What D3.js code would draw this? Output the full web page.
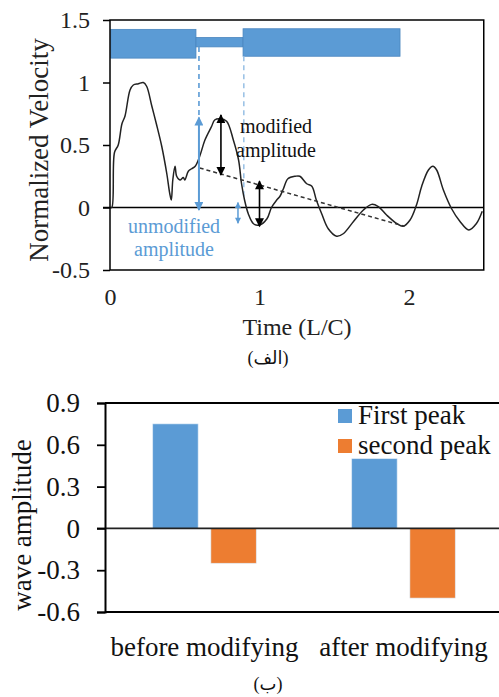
<!DOCTYPE html>
<html>
<head>
<meta charset="utf-8">
<script src="https://d3js.org/d3.v7.min.js"></script>
<style>
  body { margin: 0; background: #fff; }
  svg { display: block; font-family: "Liberation Serif", "DejaVu Sans", serif; }
</style>
</head>
<body>
<svg id="chart" width="499" height="697"></svg>
<script>
// ---- top chart data: normalized velocity vs time (L/C)
const timeVals = [0, 0.012, 0.03, 0.055, 0.08, 0.10, 0.134, 0.156, 0.19, 0.223, 0.245, 0.28, 0.31, 0.346, 0.38, 0.40, 0.41, 0.42, 0.435, 0.446, 0.468, 0.49, 0.50, 0.524, 0.546, 0.57, 0.60, 0.635, 0.68, 0.70, 0.736, 0.78, 0.825, 0.86, 0.88, 0.90, 0.925, 0.96, 1.0, 1.05, 1.08, 1.115, 1.137, 1.16, 1.19, 1.24, 1.27, 1.316, 1.35, 1.38, 1.416, 1.46, 1.516, 1.56, 1.63, 1.695, 1.75, 1.795, 1.85, 1.92, 1.96, 2.007, 2.05, 2.085, 2.13, 2.16, 2.185, 2.23, 2.285, 2.34, 2.40, 2.45, 2.49];
const velocityVals = [0, 0.0, 0.44, 0.5, 0.67, 0.73, 0.94, 0.98, 0.99, 1.0, 0.97, 0.81, 0.67, 0.49, 0.27, 0.11, 0.06, 0.22, 0.33, 0.25, 0.22, 0.24, 0.22, 0.29, 0.31, 0.33, 0.41, 0.54, 0.65, 0.70, 0.71, 0.69, 0.54, 0.38, 0.19, 0.06, -0.05, -0.13, -0.14, -0.09, 0.0, 0.06, 0.09, 0.15, 0.23, 0.25, 0.25, 0.19, 0.17, 0.06, -0.05, -0.17, -0.23, -0.21, -0.11, -0.02, 0.025, 0.007, -0.06, -0.13, -0.15, -0.10, 0.02, 0.17, 0.30, 0.33, 0.30, 0.14, -0.01, -0.11, -0.18, -0.13, -0.03];
const velTicks = [-0.5, 0, 0.5, 1, 1.5];
const timeTicks = [0, 1, 2];

// pipe sketch segments [t0, t1, vTop, vBottom]
const pipeSegs = [[0.005, 0.575, 1.425, 1.195], [0.575, 0.89, 1.36, 1.285], [0.89, 1.94, 1.43, 1.21]];
// decay trend (dashed)
const trendLine = [[0.6, 0.316], [1.97, -0.15]];

// ---- bottom chart data
const cases = ["before modifying", "after modifying"];
const peakNames = ["First peak", "second peak"];
const firstPeak = [0.75, 0.5];
const secondPeak = [-0.25, -0.5];
const ampTicks = [-0.6, -0.3, 0, 0.3, 0.6, 0.9];

const blue = "#5B9BD5", orange = "#ED7D31", lightBlue = "#9DC3E6";
const svg = d3.select("#chart");

// arrow markers
const defs = svg.append("defs");
function marker(id, color, w, h) {
  defs.append("marker").attr("id", id)
    .attr("viewBox", "0 0 10 10").attr("refX", 9).attr("refY", 5)
    .attr("markerWidth", w).attr("markerHeight", h)
    .attr("markerUnits", "userSpaceOnUse")
    .attr("orient", "auto-start-reverse")
    .append("path").attr("d", "M0,0 L10,5 L0,10 z").attr("fill", color);
}
marker("ab", "#000", 11, 9);
marker("abl", blue, 11, 9);
marker("abs", blue, 7, 6);

// ================= top chart =================
const x = d3.scaleLinear().domain([0, 2.5]).range([110, 483.75]);
const y = d3.scaleLinear().domain([-0.5, 1.5]).range([270, 20]);

const gTop = svg.append("g");

// pipe rectangles
gTop.selectAll("rect.pipe").data(pipeSegs).enter().append("rect")
  .attr("x", d => x(d[0])).attr("width", d => x(d[1]) - x(d[0]))
  .attr("y", d => y(d[2])).attr("height", d => y(d[3]) - y(d[2]))
  .attr("fill", blue).attr("stroke", "#4a86bf").attr("stroke-width", 0.8);

// dashed guide lines from pipe joints
gTop.append("line").attr("x1", x(0.595)).attr("x2", x(0.595)).attr("y1", y(1.285)).attr("y2", y(0.7))
  .attr("stroke", blue).attr("stroke-width", 1.6).attr("stroke-dasharray", "5,4");
gTop.append("line").attr("x1", x(0.895)).attr("x2", x(0.895)).attr("y1", y(1.21)).attr("y2", y(0.06))
  .attr("stroke", lightBlue).attr("stroke-width", 1.6).attr("stroke-dasharray", "5,4");

// zero line
gTop.append("line").attr("x1", 103).attr("x2", x(2.5)).attr("y1", y(0)).attr("y2", y(0))
  .attr("stroke", "#000").attr("stroke-width", 1.5);

// velocity curve
const line = d3.line().x((d, i) => x(timeVals[i])).y(d => y(d)).curve(d3.curveCatmullRom.alpha(0.5));
gTop.append("path").datum(velocityVals).attr("d", line)
  .attr("fill", "none").attr("stroke", "#222").attr("stroke-width", 1.5);

// trend line
gTop.append("line").attr("x1", x(trendLine[0][0])).attr("y1", y(trendLine[0][1]))
  .attr("x2", x(trendLine[1][0])).attr("y2", y(trendLine[1][1]))
  .attr("stroke", "#333").attr("stroke-width", 1.5).attr("stroke-dasharray", "4,3");

// arrows
function dArrow(t, v0, v1, color, mk, w) {
  gTop.append("line").attr("x1", x(t)).attr("x2", x(t)).attr("y1", y(v0)).attr("y2", y(v1))
    .attr("stroke", color).attr("stroke-width", w)
    .attr("marker-start", `url(#${mk})`).attr("marker-end", `url(#${mk})`);
}
dArrow(0.595, 0.72, -0.02, blue, "abl", 2);
dArrow(0.856, 0.04, -0.125, blue, "abs", 1.5);
dArrow(0.742, 0.74, 0.26, "#000", "ab", 1.6);
dArrow(1.0, 0.21, -0.15, "#000", "ab", 1.6);

// annotation text
gTop.append("text").attr("x", 276).attr("y", 133).attr("text-anchor", "middle")
  .attr("font-size", 20).attr("fill", "#111").text("modified");
gTop.append("text").attr("x", 276).attr("y", 157).attr("text-anchor", "middle")
  .attr("font-size", 20).attr("fill", "#111").text("amplitude");
gTop.append("text").attr("x", 174).attr("y", 233).attr("text-anchor", "middle")
  .attr("font-size", 20).attr("fill", blue).text("unmodified");
gTop.append("text").attr("x", 174).attr("y", 256).attr("text-anchor", "middle")
  .attr("font-size", 20).attr("fill", blue).text("amplitude");

// frame
gTop.append("rect").attr("x", x(0)).attr("y", y(1.5)).attr("width", x(2.5) - x(0)).attr("height", y(-0.5) - y(1.5))
  .attr("fill", "none").attr("stroke", "#000").attr("stroke-width", 1.5);

const plain = d => String(d);

// y axis
const yAxis = gTop.append("g").attr("transform", `translate(${x(0)},0)`)
  .call(d3.axisLeft(y).tickValues(velTicks).tickSize(7).tickPadding(13).tickFormat(plain));
yAxis.select(".domain").remove();
yAxis.selectAll("line").attr("stroke", "#000").attr("stroke-width", 1.5);
yAxis.selectAll("text").attr("font-size", 24).attr("font-family", "Liberation Serif").attr("fill", "#222");

// x axis
const xAxis = gTop.append("g").attr("transform", `translate(0,${y(-0.5)})`)
  .call(d3.axisBottom(x).tickValues(timeTicks).tickSize(0).tickPadding(18).tickFormat(plain));
xAxis.select(".domain").remove();
xAxis.selectAll("text").attr("font-size", 24).attr("font-family", "Liberation Serif").attr("fill", "#222");

gTop.append("text").attr("x", 297).attr("y", 335).attr("text-anchor", "middle")
  .attr("font-size", 24).attr("fill", "#222").text("Time (L/C)");
gTop.append("text").attr("transform", "translate(48,150) rotate(-90)").attr("text-anchor", "middle")
  .attr("font-size", 27).attr("fill", "#222").text("Normalized Velocity");
gTop.append("text").attr("x", 268).attr("y", 364).attr("text-anchor", "middle")
  .attr("font-size", 18).attr("fill", "#111").text("(الف)");

// ================= bottom chart =================
const x0 = d3.scaleBand().domain(cases).range([105, 503]).paddingInner(0.48).paddingOuter(0.24);
const x1 = d3.scaleBand().domain(peakNames).range([0, x0.bandwidth()]).paddingInner(0.22);
const yb = d3.scaleLinear().domain([-0.6, 0.9]).range([612, 403]);
const color = d3.scaleOrdinal().domain(peakNames).range([blue, orange]);

const gBot = svg.append("g");
const rows = cases.map((c, i) => ({ c, vals: [firstPeak[i], secondPeak[i]] }));

gBot.selectAll("g.grp").data(rows).enter().append("g")
  .attr("transform", d => `translate(${x0(d.c)},0)`)
  .selectAll("rect").data(d => d.vals.map((v, j) => ({ k: peakNames[j], v })))
  .enter().append("rect")
  .attr("x", d => x1(d.k)).attr("width", x1.bandwidth())
  .attr("y", d => yb(Math.max(0, d.v))).attr("height", d => Math.abs(yb(d.v) - yb(0)))
  .attr("fill", d => color(d.k)).attr("stroke", "#dbe8f5").attr("stroke-width", 0.6);

// zero line
gBot.append("line").attr("x1", 97).attr("x2", 499).attr("y1", yb(0)).attr("y2", yb(0))
  .attr("stroke", "#222").attr("stroke-width", 1.8);
// frame lines
gBot.append("line").attr("x1", 105).attr("x2", 499).attr("y1", yb(0.9)).attr("y2", yb(0.9))
  .attr("stroke", "#000").attr("stroke-width", 2);
gBot.append("line").attr("x1", 105).attr("x2", 499).attr("y1", yb(-0.6)).attr("y2", yb(-0.6))
  .attr("stroke", "#000").attr("stroke-width", 2);

const ybAxis = gBot.append("g").attr("transform", "translate(105,0)")
  .call(d3.axisLeft(yb).tickValues(ampTicks).tickSize(8).tickPadding(17)
    .tickFormat(d => d === 0 ? "0" : d.toFixed(1)));
ybAxis.select(".domain").attr("stroke", "#000").attr("stroke-width", 2);
ybAxis.selectAll("line").attr("stroke", "#000").attr("stroke-width", 1.8);
ybAxis.selectAll("text").attr("font-size", 27).attr("font-family", "Liberation Serif").attr("fill", "#111");

const xbAxis = gBot.append("g").attr("transform", `translate(0,${yb(-0.6)})`)
  .call(d3.axisBottom(x0).tickSize(0).tickPadding(25));
xbAxis.select(".domain").remove();
xbAxis.selectAll("text").attr("font-size", 27).attr("font-family", "Liberation Serif").attr("fill", "#111");

gBot.append("text").attr("transform", "translate(31,525) rotate(-90)").attr("text-anchor", "middle")
  .attr("font-size", 27).attr("fill", "#111").text("wave amplitude");

// legend
const leg = gBot.selectAll("g.leg").data(peakNames).enter().append("g")
  .attr("transform", (d, i) => `translate(338,${409 + i * 30})`);
leg.append("rect").attr("width", 14).attr("height", 14).attr("fill", d => color(d));
leg.append("text").attr("x", 20).attr("y", 15).attr("font-size", 27).attr("fill", "#111").text(d => d);

gBot.append("text").attr("x", 268).attr("y", 690).attr("text-anchor", "middle")
  .attr("font-size", 18).attr("fill", "#111").text("(ب)");
</script>
</body>
</html>
